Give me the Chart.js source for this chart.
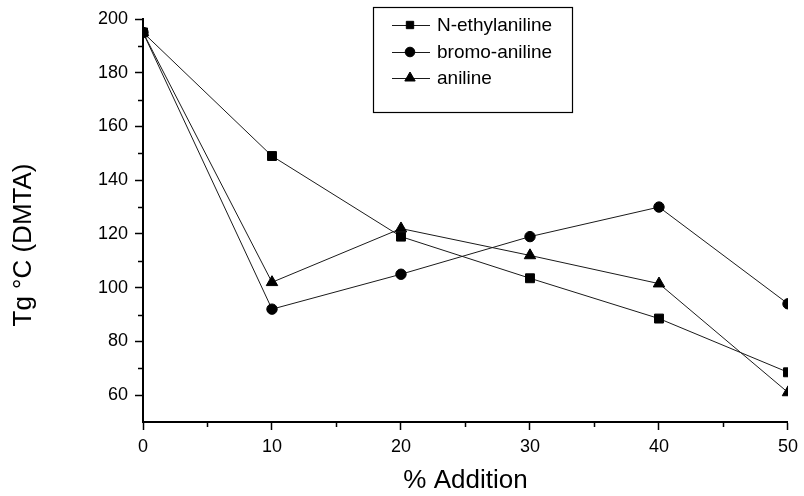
<!DOCTYPE html>
<html>
<head>
<meta charset="utf-8">
<script src="https://cdn.jsdelivr.net/npm/chart.js@4/dist/chart.umd.min.js"></script>
<style>
  body { margin: 0; background: #fff; }
</style>
</head>
<body>
<canvas id="grafico-tg" width="804" height="496"></canvas>
<script>
// dados
const adicao = [0, 10, 20, 30, 40, 50];
const nEtilanilina = [195, 149, 119, 103.5, 88.5, 68.5];
const bromoAnilina = [195, 92, 105, 119, 130, 94];
const anilina = [195, 102, 122, 112, 101.5, 61];

const nomesSeries = ['N-ethylaniline', 'bromo-aniline', 'aniline'];
const estilos = ['rect', 'circle', 'triangle'];
const raios = [6.3, 5.2, 6.6];
const raiosLegenda = [5.2, 4.8, 6];

const tituloX = '% Addition';
const tituloY = 'Tg \u00B0C (DMTA)';

const fonte = '"Liberation Sans", Arial, Helvetica, sans-serif';

function serie(i, valores) {
  return {
    label: nomesSeries[i],
    data: adicao.map((x, k) => ({ x: x, y: valores[k] })),
    borderColor: '#1a1a1a',
    borderWidth: 1,
    pointStyle: estilos[i],
    pointRadius: raios[i],
    pointBackgroundColor: '#000',
    pointBorderColor: '#000',
    pointBorderWidth: 1,
    tension: 0,
    fill: false
  };
}

// ticks menores (mais curtos) nos dois eixos
const ticksMenores = {
  id: 'ticksMenores',
  afterDraw(chart) {
    const ctx = chart.ctx;
    const sx = chart.scales.x;
    const sy = chart.scales.y;
    ctx.save();
    ctx.strokeStyle = '#000';
    ctx.lineWidth = 1.5;
    ctx.beginPath();
    for (let v = 70; v < 200; v += 20) {
      const py = Math.round(sy.getPixelForValue(v)) + 0.5;
      ctx.moveTo(sx.left - 5, py);
      ctx.lineTo(sx.left, py);
    }
    for (let v = 5; v < 50; v += 10) {
      const px = Math.round(sx.getPixelForValue(v)) + 0.5;
      ctx.moveTo(px, sy.bottom);
      ctx.lineTo(px, sy.bottom + 5);
    }
    ctx.stroke();
    ctx.restore();
  }
};

// título do eixo y e legenda dentro da área do gráfico
const extras = {
  id: 'extras',
  afterDraw(chart) {
    const ctx = chart.ctx;
    ctx.save();
    ctx.fillStyle = '#000';
    ctx.font = '26px ' + fonte;
    ctx.textAlign = 'center';
    ctx.textBaseline = 'middle';
    ctx.translate(24, 245);
    ctx.rotate(-Math.PI / 2);
    ctx.fillText(tituloY, 0, 0);
    ctx.restore();

    // caixa da legenda
    ctx.save();
    ctx.strokeStyle = '#000';
    ctx.lineWidth = 1.2;
    ctx.strokeRect(373.5, 7.5, 199, 105);
    const linhas = [25, 52, 78];
    chart.data.datasets.forEach((ds, i) => {
      const y = linhas[i];
      ctx.strokeStyle = '#1a1a1a';
      ctx.lineWidth = 1;
      ctx.beginPath();
      ctx.moveTo(392, y + 0.5);
      ctx.lineTo(430, y + 0.5);
      ctx.stroke();
      ctx.fillStyle = '#000';
      ctx.strokeStyle = '#000';
      Chart.helpers.drawPoint(ctx, {
        pointStyle: ds.pointStyle,
        radius: raiosLegenda[i],
        rotation: 0,
        borderWidth: 1
      }, 410, y);
      ctx.fillStyle = '#000';
      ctx.font = '19px ' + fonte;
      ctx.textAlign = 'left';
      ctx.textBaseline = 'middle';
      ctx.fillText(ds.label, 437, y + 1);
    });
    ctx.restore();
  }
};

new Chart(document.getElementById('grafico-tg'), {
  type: 'line',
  data: {
    datasets: [
      serie(0, nEtilanilina),
      serie(1, bromoAnilina),
      serie(2, anilina)
    ]
  },
  options: {
    responsive: false,
    animation: false,
    layout: {
      padding: { top: 19, right: 13, bottom: 0, left: 0 }
    },
    plugins: {
      legend: { display: false },
      tooltip: { enabled: false }
    },
    scales: {
      x: {
        type: 'linear',
        min: 0,
        max: 50,
        afterFit(scale) { scale.height = 74; },
        ticks: {
          stepSize: 5,
          color: '#000',
          padding: 6,
          font: { family: fonte, size: 18 },
          callback: v => (v % 10 === 0 ? String(v) : '')
        },
        grid: {
          drawOnChartArea: false,
          tickLength: 8,
          tickWidth: 1.5,
          tickColor: c => (c.tick && c.tick.value % 10 === 0 ? '#000' : 'rgba(0,0,0,0)')
        },
        border: { display: true, color: '#000', width: 2 },
        title: {
          display: true,
          text: tituloX,
          color: '#000',
          font: { family: fonte, size: 26 },
          padding: { top: 0, bottom: 0 }
        }
      },
      y: {
        min: 50,
        max: 200,
        afterFit(scale) { scale.width = 143; },
        ticks: {
          stepSize: 10,
          color: '#000',
          padding: 7,
          font: { family: fonte, size: 18 },
          callback: v => (v % 20 === 0 && v >= 60 ? String(v) : '')
        },
        grid: {
          drawOnChartArea: false,
          tickLength: 8,
          tickWidth: 1.5,
          tickColor: c => (c.tick && c.tick.value % 20 === 0 && c.tick.value >= 60 ? '#000' : 'rgba(0,0,0,0)')
        },
        border: { display: true, color: '#000', width: 2 }
      }
    }
  },
  plugins: [ticksMenores, extras]
});
</script>
</body>
</html>
